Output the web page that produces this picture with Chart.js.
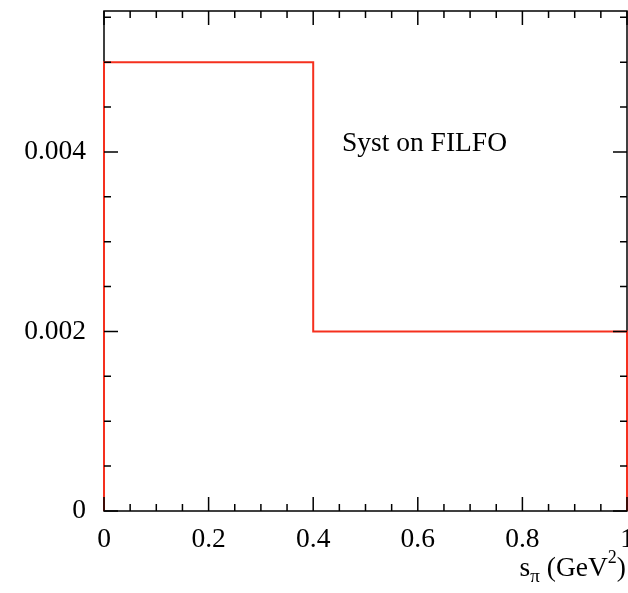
<!DOCTYPE html>
<html>
<head>
<meta charset="utf-8">
<script src="https://cdn.jsdelivr.net/npm/chart.js@4"></script>
<style>
  html, body { margin: 0; padding: 0; background: #fff; overflow: hidden; }
  canvas { display: block; }
</style>
</head>
<body>
<canvas id="chart" width="628" height="593"></canvas>
<script>
// Histogram: bin edges and contents
const binEdges = [0, 0.4, 1];
const binValues = [0.005, 0.002];

// Axis ticks
const xTickValues = [0, 0.2, 0.4, 0.6, 0.8, 1];
const xTickLabels = ['0', '0.2', '0.4', '0.6', '0.8', '1'];
const yTickValues = [0, 0.002, 0.004];
const yTickLabels = ['0', '0.002', '0.004'];

const label = 'Syst on FILFO';
const FONT = '"Liberation Serif", "Times New Roman", serif';
const RED = '#f5301e';

// outline of the histogram, built from the bins
function outline() {
  const pts = [{ x: binEdges[0], y: 0 }];
  binValues.forEach((v, i) => {
    pts.push({ x: binEdges[i], y: v });
    pts.push({ x: binEdges[i + 1], y: v });
  });
  pts.push({ x: binEdges[binEdges.length - 1], y: 0 });
  return pts;
}

// frame (top/right as well) and inward tick marks, like the old paw/root style
const frameAndTicks = {
  id: 'frameAndTicks',
  beforeDatasetsDraw(chart) {
    const { ctx, chartArea: a } = chart;
    ctx.save();
    ctx.strokeStyle = '#000';
    ctx.lineWidth = 1.5;
    ctx.strokeRect(a.left, a.top, a.right - a.left, a.bottom - a.top);
    ctx.restore();
  },
  afterDatasetsDraw(chart) {
    const { ctx, chartArea: a, scales: { x, y } } = chart;
    ctx.save();
    ctx.strokeStyle = '#000';
    ctx.lineWidth = 1.5;
    ctx.beginPath();
    for (let i = 0; i <= 20; i++) {
      const px = x.getPixelForValue(i * 0.05);
      const len = i % 4 === 0 ? 14 : 7;
      ctx.moveTo(px, a.bottom); ctx.lineTo(px, a.bottom - len);
      ctx.moveTo(px, a.top); ctx.lineTo(px, a.top + len);
    }
    for (let i = 0; i * 0.0005 <= y.max + 1e-9; i++) {
      const py = y.getPixelForValue(i * 0.0005);
      const len = i % 4 === 0 ? 14 : 7;
      ctx.moveTo(a.left, py); ctx.lineTo(a.left + len, py);
      ctx.moveTo(a.right, py); ctx.lineTo(a.right - len, py);
    }
    ctx.stroke();

    // text label inside the frame
    ctx.fillStyle = '#000';
    ctx.font = '27.5px ' + FONT;
    ctx.textBaseline = 'alphabetic';
    ctx.textAlign = 'left';
    ctx.fillText(label, x.getPixelForValue(0.455), y.getPixelForValue(0.00401));

    // axis title s_pi (GeV^2), right aligned under the axis
    const parts = [
      { t: 's', size: 27.5, dy: 0 },
      { t: '\u03c0', size: 19, dy: 6 },
      { t: ' (GeV', size: 27.5, dy: 0 },
      { t: '2', size: 18, dy: -13 },
      { t: ')', size: 27.5, dy: 0 }
    ];
    let w = 0;
    parts.forEach(p => { ctx.font = p.size + 'px ' + FONT; p.w = ctx.measureText(p.t).width; w += p.w; });
    let tx = 626 - w;
    const base = 576;
    parts.forEach(p => {
      ctx.font = p.size + 'px ' + FONT;
      ctx.fillText(p.t, tx, base + p.dy);
      tx += p.w;
    });
    ctx.restore();
  }
};

new Chart(document.getElementById('chart'), {
  type: 'line',
  data: {
    datasets: [{
      data: outline(),
      borderColor: RED,
      borderWidth: 2,
      pointRadius: 0,
      tension: 0,
      fill: false,
      clip: 4
    }]
  },
  options: {
    responsive: false,
    animation: false,
    devicePixelRatio: 1,
    layout: { padding: { top: 11, right: 1, bottom: 0, left: 0 } },
    plugins: { legend: { display: false }, tooltip: { enabled: false } },
    scales: {
      x: {
        type: 'linear',
        min: 0,
        max: 1,
        grid: { display: false },
        border: { display: false },
        afterFit(s) { s.height = 82; s.paddingLeft = 0; s.paddingRight = 0; },
        afterBuildTicks(s) { s.ticks = xTickValues.map(v => ({ value: v })); },
        ticks: {
          color: '#000',
          font: { family: FONT, size: 27.5 },
          padding: 4,
          maxRotation: 0,
          autoSkip: false,
          callback: (v, i) => xTickLabels[i]
        }
      },
      y: {
        type: 'linear',
        min: 0,
        max: 0.00557,
        grid: { display: false },
        border: { display: false },
        afterFit(s) { s.width = 104; s.paddingTop = 0; s.paddingBottom = 0; },
        afterBuildTicks(s) { s.ticks = yTickValues.map(v => ({ value: v })); },
        ticks: {
          color: '#000',
          font: { family: FONT, size: 27.5 },
          padding: 10,
          autoSkip: false,
          callback: (v, i) => yTickLabels[i]
        }
      }
    }
  },
  plugins: [frameAndTicks]
});
</script>
</body>
</html>
